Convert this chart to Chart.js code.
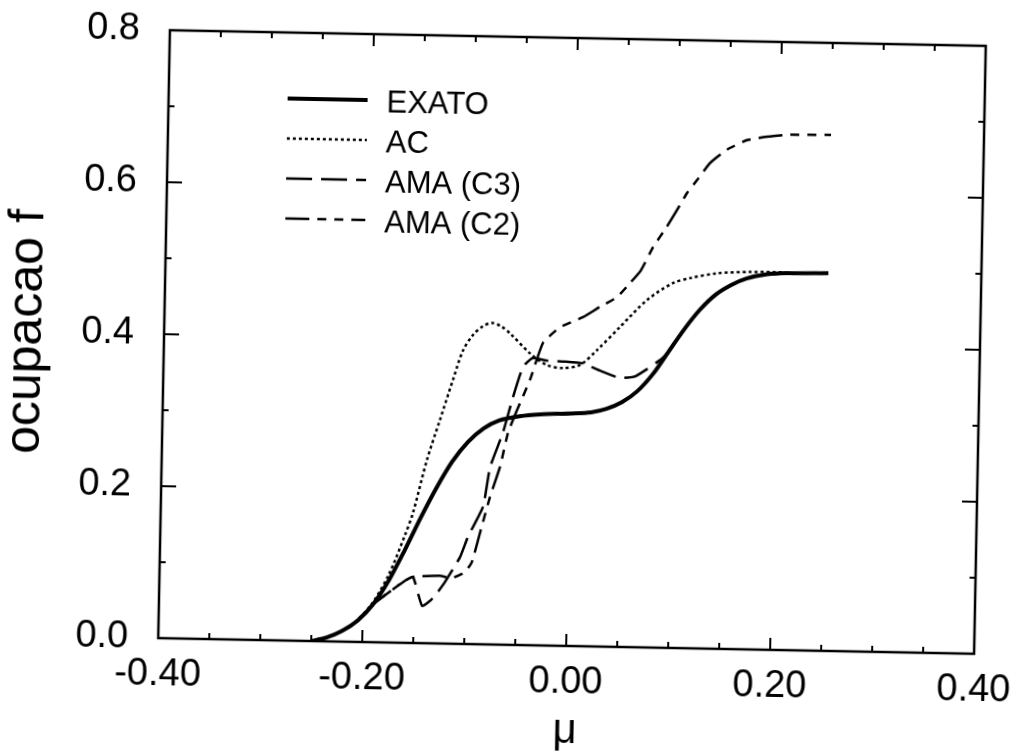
<!DOCTYPE html>
<html lang="pt">

<head>
    <meta charset="UTF-8">
    <title>ocupacao f</title>
    <style>
        html, body { margin: 0; padding: 0; background: #fff; overflow: hidden; width: 1013px; height: 751px; }
        /* the scanned figure is tilted a little clockwise */
        #myCanvas { display: block; transform: rotate(1.1deg); transform-origin: 572px 342px; }
    </style>
</head>

<body>
    <canvas id="myCanvas" width="1040" height="751"></canvas>
    <script src="https://cdn.jsdelivr.net/npm/chart.js@4.4.0/dist/chart.umd.min.js"></script>
    <script>
        // curves (mu, f)
        const exatoMu = [-0.25, -0.235, -0.22, -0.205, -0.19, -0.175, -0.16, -0.145, -0.13, -0.115, -0.1, -0.085, -0.07, -0.05, -0.03, 0.0, 0.02, 0.035, 0.05, 0.065, 0.08, 0.095, 0.11, 0.125, 0.14, 0.155, 0.17, 0.19, 0.21, 0.25];
        const exatoF = [0.0, 0.005, 0.014, 0.028, 0.05, 0.082, 0.122, 0.165, 0.205, 0.24, 0.266, 0.284, 0.295, 0.301, 0.304, 0.306, 0.308, 0.313, 0.322, 0.337, 0.36, 0.39, 0.42, 0.446, 0.466, 0.479, 0.488, 0.494, 0.496, 0.497];

        const acMu = [-0.25, -0.235, -0.22, -0.205, -0.19, -0.175, -0.16, -0.1527, -0.14, -0.128, -0.116, -0.1067, -0.097, -0.0875, -0.0788, -0.07, -0.061, -0.041, -0.0241, -0.0083, 0.0083, 0.0247, 0.0468, 0.0727, 0.0978, 0.1145, 0.1408, 0.173, 0.21, 0.25];
        const acF = [0.0, 0.005, 0.014, 0.029, 0.053, 0.09, 0.142, 0.171, 0.241, 0.294, 0.347, 0.386, 0.407, 0.4185, 0.423, 0.419, 0.41, 0.384, 0.369, 0.3655, 0.37, 0.39, 0.421, 0.457, 0.48, 0.487, 0.494, 0.4966, 0.497, 0.497];

        const c3Mu = [-0.25, -0.235, -0.22, -0.205, -0.19, -0.161, -0.1515, -0.142, -0.1333, -0.1277, -0.12, -0.1058, -0.0983, -0.0841, -0.078, -0.066, -0.0568, -0.0476, -0.038, -0.025, -0.007, 0.011, 0.03, 0.0475, 0.062, 0.0738, 0.088, 0.095, 0.11, 0.125, 0.14, 0.155, 0.17, 0.19, 0.21, 0.25];
        const c3F = [0.0, 0.005, 0.014, 0.028, 0.05, 0.08, 0.087, 0.049, 0.057, 0.066, 0.081, 0.114, 0.141, 0.181, 0.233, 0.279, 0.326, 0.366, 0.378, 0.375, 0.374, 0.372, 0.362, 0.354, 0.356, 0.366, 0.38, 0.39, 0.42, 0.446, 0.466, 0.479, 0.488, 0.494, 0.496, 0.497];

        const c2Mu = [-0.25, -0.235, -0.22, -0.205, -0.19, -0.161, -0.1515, -0.125, -0.1133, -0.1006, -0.094, -0.0867, -0.0775, -0.0682, -0.061, -0.0526, -0.0405, -0.0284, -0.0121, 0.0103, 0.0268, 0.0432, 0.0558, 0.0662, 0.0778, 0.0908, 0.1004, 0.11, 0.1195, 0.132, 0.1483, 0.1677, 0.1873, 0.2068, 0.25];
        const c2F = [0.0, 0.005, 0.014, 0.028, 0.05, 0.08, 0.087, 0.089, 0.0865, 0.0946, 0.108, 0.146, 0.194, 0.234, 0.279, 0.309, 0.349, 0.398, 0.419, 0.433, 0.447, 0.46, 0.479, 0.496, 0.527, 0.554, 0.576, 0.599, 0.616, 0.639, 0.657, 0.67, 0.675, 0.678, 0.679];

        const seriesNames = ['EXATO', 'AC', 'AMA (C3)', 'AMA (C2)'];
        const xTicks = [-0.4, -0.2, 0.0, 0.2, 0.4];
        const yTicks = [0.0, 0.2, 0.4, 0.6, 0.8];

        const FONT = 'Liberation Sans, Arial, Helvetica, sans-serif';

        function pts(xs, ys) {
            return xs.map((v, i) => ({ x: v, y: ys[i] }));
        }

        // keep the plot box where the figure has it, labels may hang over
        function noOverhang(s) {
            s.paddingLeft = 0;
            s.paddingRight = 0;
            s.paddingTop = 0;
            s.paddingBottom = 0;
        }

        // box round the plot with inward ticks on all four sides
        const frame = {
            id: 'frame',
            afterDatasetsDraw(chart) {
                const { ctx, chartArea: a, scales: { x, y } } = chart;
                ctx.save();
                ctx.strokeStyle = '#000';
                ctx.lineWidth = 2.5;
                ctx.strokeRect(a.left, a.top, a.right - a.left, a.bottom - a.top);
                ctx.lineWidth = 2;
                ctx.beginPath();
                for (let i = -8; i <= 8; i++) {
                    const px = x.getPixelForValue(i * 0.05);
                    const len = i % 4 === 0 ? 12 : 6;
                    ctx.moveTo(px, a.bottom); ctx.lineTo(px, a.bottom - len);
                    ctx.moveTo(px, a.top); ctx.lineTo(px, a.top + len);
                }
                for (let i = 0; i <= 8; i++) {
                    const py = y.getPixelForValue(i * 0.1);
                    const len = i % 2 === 0 ? 15 : 6;
                    ctx.moveTo(a.left, py); ctx.lineTo(a.left + len, py);
                    ctx.moveTo(a.right, py); ctx.lineTo(a.right - len, py);
                }
                ctx.stroke();
                ctx.restore();
            }
        };

        // legend sits inside the plot, upper left
        const legendBox = {
            id: 'legendBox',
            afterDraw(chart) {
                const { ctx, chartArea: a } = chart;
                ctx.save();
                chart.data.datasets.forEach((ds, i) => {
                    const yy = a.top + 66 + i * 40;
                    ctx.strokeStyle = '#000';
                    ctx.lineWidth = ds.borderWidth;
                    ctx.setLineDash(ds.borderDash || []);
                    ctx.beginPath();
                    ctx.moveTo(a.left + 119, yy);
                    ctx.lineTo(a.left + 199, yy);
                    ctx.stroke();
                    ctx.setLineDash([]);
                    ctx.fillStyle = '#000';
                    ctx.font = '31px ' + FONT;
                    ctx.textBaseline = 'middle';
                    ctx.textAlign = 'left';
                    ctx.fillText(ds.label, a.left + 218, yy + 3);
                });
                ctx.restore();
            }
        };

        const ctx = document.getElementById('myCanvas').getContext('2d');
        const myChart = new Chart(ctx, {
            type: 'scatter',
            data: {
                datasets: [{
                    label: seriesNames[0],
                    data: pts(exatoMu, exatoF),
                    borderColor: '#000',
                    borderWidth: 4,
                    tension: 0.3
                }, {
                    label: seriesNames[1],
                    data: pts(acMu, acF),
                    borderColor: '#000',
                    borderWidth: 2.5,
                    borderDash: [3, 3],
                    tension: 0.3
                }, {
                    label: seriesNames[2],
                    data: pts(c3Mu, c3F),
                    borderColor: '#000',
                    borderWidth: 2.5,
                    borderDash: [26, 9],
                    tension: 0.15
                }, {
                    label: seriesNames[3],
                    data: pts(c2Mu, c2F),
                    borderColor: '#000',
                    borderWidth: 2.5,
                    borderDash: [24, 8, 9, 8, 9, 8],
                    tension: 0.15
                }]
            },
            options: {
                responsive: false,
                devicePixelRatio: 1,
                animation: false,
                showLine: true,
                elements: { point: { radius: 0, hoverRadius: 0 } },
                layout: { padding: { left: 0, right: 60, top: 38, bottom: 0 } },
                plugins: { legend: { display: false }, tooltip: { enabled: false } },
                scales: {
                    x: {
                        type: 'linear',
                        position: 'bottom',
                        min: xTicks[0],
                        max: xTicks[xTicks.length - 1],
                        afterFit: s => { noOverhang(s); s.height = 105; },
                        afterBuildTicks: s => { s.ticks = xTicks.map(v => ({ value: v })); },
                        grid: { display: false, drawTicks: true, tickLength: 14 },
                        border: { display: false },
                        ticks: {
                            padding: 0,
                            maxRotation: 0,
                            autoSkip: false,
                            color: '#000',
                            font: { family: FONT, size: 38 },
                            callback: v => (Math.abs(v) < 1e-9 ? 0 : v).toFixed(2)
                        },
                        title: {
                            display: true,
                            text: 'μ',
                            color: '#000',
                            font: { family: FONT, size: 42, lineHeight: 1 },
                            padding: { top: 0, bottom: -1 }
                        }
                    },
                    y: {
                        type: 'linear',
                        min: yTicks[0],
                        max: yTicks[yTicks.length - 1],
                        afterFit: s => { noOverhang(s); s.width = 164; },
                        afterBuildTicks: s => { s.ticks = yTicks.map(v => ({ value: v })); },
                        grid: { display: false, drawTicks: true, tickLength: 30 },
                        border: { display: false },
                        ticks: {
                            padding: 0,
                            color: '#000',
                            font: { family: FONT, size: 38 },
                            callback: v => v.toFixed(1)
                        },
                        title: {
                            display: true,
                            text: 'ocupacao f',
                            color: '#000',
                            font: { family: FONT, size: 50 },
                            padding: { top: -3, bottom: 0 }
                        }
                    }
                }
            },
            plugins: [frame, legendBox]
        });
    </script>
</body>

</html>
